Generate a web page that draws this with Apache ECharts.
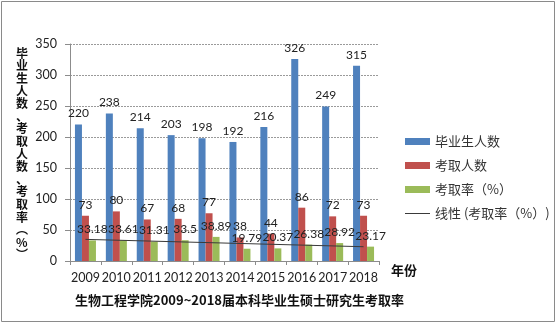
<!DOCTYPE html>
<html><head><meta charset="utf-8">
<script src="https://cdn.jsdelivr.net/npm/echarts@6/dist/echarts.min.js"></script>
<style>html,body{margin:0;padding:0;background:#fff}#c{width:556px;height:324px}</style>
</head><body><div id="c"></div>
<script>
var years = ['2009','2010','2011','2012','2013','2014','2015','2016','2017','2018'];
var graduates = [220,238,214,203,198,192,216,326,249,315];
var admitted = [73,80,67,68,77,38,44,86,72,73];
var rate = [33.18,33.61,31.31,33.5,38.89,19.79,20.37,26.38,28.92,23.17];
// linear trend line endpoints (2009 and 2018)
var trendEnds = [34.9, 23.0];
var yTicks = [0,50,100,150,200,250,300,350];
var yAxisTitle = '毕业生人数、考取人数、考取率︵%︶';
var chartTitle = '生物工程学院2009~2018届本科毕业生硕士研究生考取率';
var names = ['毕业生人数','考取人数','考取率（%）','线性 (考取率（%）)'];

var trend = years.map(function(_, i){ return i===0 ? trendEnds[0] : (i===years.length-1 ? trendEnds[1] : null); });
var num = 'Lato, "Noto Sans CJK SC", sans-serif';
var cjk = '"Noto Sans CJK SC", sans-serif';
function lbl(){ return {show:true, position:'top', distance:5, fontSize:12, fontFamily:num, color:'#222'}; }

var chart = echarts.init(document.getElementById('c'), null, {renderer:'canvas'});
chart.setOption({
  animation:false,
  backgroundColor:'#fff',
  grid:{left:70, right:177, top:44, bottom:63},
  legend:{
    orient:'vertical', left:400, top:130, itemWidth:25, itemHeight:7, itemGap:11,
    textStyle:{fontSize:13, fontFamily:cjk, color:'#333'},
    data:[
      {name:names[0], icon:'rect'},
      {name:names[1], icon:'rect'},
      {name:names[2], icon:'rect'},
      {name:names[3], icon:'path://M0,0 L50,0 L50,2 L0,2 Z'}
    ]
  },
  xAxis:{
    type:'category', data:years,
    axisLine:{lineStyle:{color:'#8c8c8c'}},
    axisTick:{show:true, length:4, lineStyle:{color:'#8c8c8c'}},
    axisLabel:{fontSize:12.5, fontFamily:num, color:'#222', margin:11, interval:0}
  },
  yAxis:{
    type:'value', min:yTicks[0], max:yTicks[yTicks.length-1], interval:yTicks[1]-yTicks[0],
    axisLine:{show:true, lineStyle:{color:'#8c8c8c'}},
    axisTick:{show:true, length:5, lineStyle:{color:'#8c8c8c'}},
    axisLabel:{fontSize:12.5, fontFamily:num, color:'#222', margin:13},
    splitLine:{lineStyle:{color:'#9a9a9a', type:[2,1]}}
  },
  series:[
    {name:names[0], type:'bar', data:graduates, barWidth:7, barGap:'0%',
     itemStyle:{color:'#4f81bd'}, label:lbl()},
    {name:names[1], type:'bar', data:admitted, barWidth:7, barGap:'0%',
     itemStyle:{color:'#c0504d'}, label:lbl()},
    {name:names[2], type:'bar', data:rate, barWidth:7, barGap:'0%',
     itemStyle:{color:'#9bbb59'}, label:lbl()},
    {name:names[3], type:'line', data:trend, connectNulls:true, symbol:'none',
     lineStyle:{color:'#3a3a3a', width:1}, itemStyle:{color:'#3a3a3a'}, z:5}
  ],
  graphic:[
    {type:'rect', shape:{x:1.5, y:1.5, width:553, height:320}, style:{fill:null, stroke:'#8a8a8a', lineWidth:1}, silent:true},
    {type:'text', left:16, top:47, style:{text:yAxisTitle.split('').join('\n'), font:'bold 12px "Noto Sans CJK SC", sans-serif', lineHeight:12.6, fill:'#111', align:'center'}},
    {type:'text', left:391, top:264, style:{text:'年份', font:'bold 13px "Noto Sans CJK SC", sans-serif', fill:'#111'}},
    {type:'text', left:75, top:294, style:{text:chartTitle, font:'bold 13px "Noto Sans CJK SC", sans-serif', fill:'#111'}}
  ]
});
</script></body></html>
